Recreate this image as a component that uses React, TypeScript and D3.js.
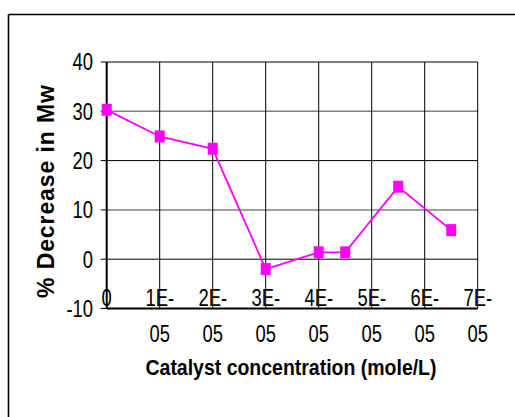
import React from "react"
import * as d3 from "d3"

// catalyst concentration (mole/L) and % decrease in Mw
const concentration = [0, 1e-5, 2e-5, 3e-5, 4e-5, 4.5e-5, 5.5e-5, 6.5e-5]
const decrease = [30.3, 24.9, 22.4, -2, 1.4, 1.4, 14.7, 5.9]

const xTicks = [0, 1e-5, 2e-5, 3e-5, 4e-5, 5e-5, 6e-5, 7e-5]
const xTickTop = ["0", "1E-", "2E-", "3E-", "4E-", "5E-", "6E-", "7E-"]
const xTickBottom = ["", "05", "05", "05", "05", "05", "05", "05"]
const yTicks = [-10, 0, 10, 20, 30, 40]

const W = 515
const H = 417
const plot = { left: 106.7, right: 477.7, top: 62, bottom: 308.5 }
const font = "'Liberation Sans', Arial, sans-serif"
const squeeze = 0.8 // the original uses a condensed face

function NarrowText(props: { x: number; y: number; anchor: string; children: any }) {
  return (
    <text transform={`translate(${props.x},${props.y}) scale(${squeeze},1)`} textAnchor={props.anchor}
      fontFamily={font} fontSize={23} fill="#000">{props.children}</text>
  )
}

export default function App() {
  const x = d3.scaleLinear().domain([0, 7e-5]).range([plot.left, plot.right])
  const y = d3.scaleLinear().domain([-10, 40]).range([plot.bottom, plot.top])

  const pts = concentration.map((c, i) => [x(c), y(decrease[i])] as [number, number])
  const line = d3.line()(pts) || ""

  return (
    <svg width={W} height={H} style={{ position: "absolute", left: 0, top: 0, background: "#fff" }}>
      {/* outer chart border, runs off the right and bottom */}
      <line x1={8.5} y1={14.5} x2={W} y2={14.5} stroke="#000" strokeWidth={1.3} />
      <line x1={8.5} y1={14.5} x2={8.5} y2={H} stroke="#000" strokeWidth={1.6} />

      {/* horizontal grid */}
      {yTicks.filter(v => v > -10).map(v => (
        <line key={"h" + v} x1={plot.left} x2={plot.right} y1={y(v)} y2={y(v)}
          stroke={v === 30 || v === 10 ? "#7f7f7f" : "#000"}
          strokeWidth={v === 30 || v === 10 ? 1.5 : 1} />
      ))}
      {/* vertical grid */}
      {xTicks.slice(1).map(v => (
        <line key={"v" + v} x1={x(v)} x2={x(v)} y1={plot.top} y2={plot.bottom} stroke="#000" strokeWidth={1} />
      ))}

      {/* axes */}
      <line x1={plot.left} x2={plot.left} y1={plot.top} y2={plot.bottom} stroke="#000" strokeWidth={2} />
      <line x1={plot.left} x2={plot.right} y1={plot.bottom} y2={plot.bottom} stroke="#000" strokeWidth={2} />
      {yTicks.map(v => (
        <line key={"t" + v} x1={plot.left - 6} x2={plot.left} y1={y(v)} y2={y(v)} stroke="#000" strokeWidth={1} />
      ))}

      {/* y tick labels */}
      {yTicks.map(v => (
        <NarrowText key={"yl" + v} x={93} y={y(v) + 8.3} anchor="end">{v}</NarrowText>
      ))}

      {/* x tick labels, split onto two lines */}
      {xTicks.map((v, i) => (
        <g key={"xl" + i}>
          <NarrowText x={x(v)} y={305.5} anchor="middle">{xTickTop[i]}</NarrowText>
          <NarrowText x={x(v)} y={341.5} anchor="middle">{xTickBottom[i]}</NarrowText>
        </g>
      ))}

      {/* series */}
      <path d={line} fill="none" stroke="#ff00ff" strokeWidth={1.8} />
      {pts.map((p, i) => (
        <rect key={"m" + i} x={p[0] - 5} y={p[1] - 6} width={10} height={12} fill="#ff00ff" />
      ))}

      {/* axis titles */}
      <text x={291} y={375} textAnchor="middle" fontFamily={font} fontWeight="bold" fontSize={22}
        textLength={291} lengthAdjust="spacingAndGlyphs" fill="#000">Catalyst concentration (mole/L)</text>
      <text transform="translate(54,191.5) rotate(-90)" textAnchor="middle" fontFamily={font}
        fontWeight="bold" fontSize={23} textLength={213} lengthAdjust="spacing" fill="#000">% Decrease in Mw</text>
    </svg>
  )
}
